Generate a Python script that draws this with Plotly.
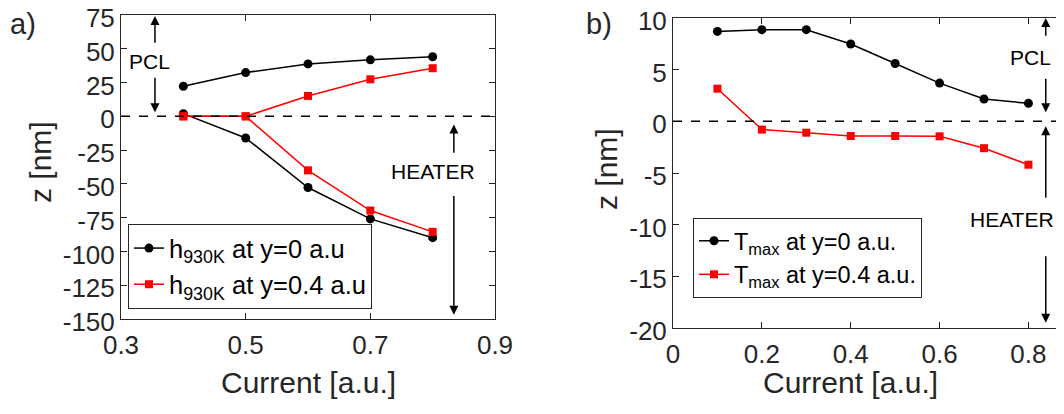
import plotly.graph_objects as go

# ---- data: panel a ----
current_a = [0.4, 0.5, 0.6, 0.7, 0.8]
h_y0_upper = [22.3, 32.4, 38.8, 41.8, 44.1]
h_y0_lower = [2.0, -16.0, -52.7, -75.9, -89.8]
h_y04_upper = [0.0, 0.0, 15.1, 27.4, 35.6]
h_y04_lower = [0.0, 0.0, -40.0, -69.7, -85.5]

# ---- data: panel b ----
current_b = [0.1, 0.2, 0.3, 0.4, 0.5, 0.6, 0.7, 0.8]
tmax_y0 = [8.7, 8.87, 8.87, 7.48, 5.6, 3.7, 2.16, 1.74]
tmax_y04 = [3.16, -0.8, -1.1, -1.42, -1.42, -1.45, -2.6, -4.2]

xticks_a = [0.3, 0.5, 0.7, 0.9]
xlabels_a = ["0.3", "0.5", "0.7", "0.9"]
yticks_a = [75, 50, 25, 0, -25, -50, -75, -100, -125, -150]
xticks_b = [0, 0.2, 0.4, 0.6, 0.8]
xlabels_b = ["0", "0.2", "0.4", "0.6", "0.8"]
yticks_b = [10, 5, 0, -5, -10, -15, -20]

FONT = "Liberation Sans, Arial, sans-serif"
AX = "#262626"
BLACK = "#000000"
RED = "#ff0000"

fig = go.Figure()

def line_trace(x, y, color, symbol, name, xa, ya, legend, show):
    return go.Scatter(
        x=x, y=y, mode="lines+markers", name=name,
        line=dict(color=color, width=1.5),
        marker=dict(color=color, symbol=symbol, size=9 if symbol == "circle" else 8),
        xaxis=xa, yaxis=ya, legend=legend, showlegend=show,
    )

name_a0 = "h<sub>930K</sub> at y=0 a.u"
name_a4 = "h<sub>930K</sub> at y=0.4 a.u"
fig.add_trace(line_trace(current_a, h_y0_upper, BLACK, "circle", name_a0, "x", "y", "legend", True))
fig.add_trace(line_trace(current_a, h_y0_lower, BLACK, "circle", name_a0, "x", "y", "legend", False))
fig.add_trace(line_trace(current_a, h_y04_upper, RED, "square", name_a4, "x", "y", "legend", True))
fig.add_trace(line_trace(current_a, h_y04_lower, RED, "square", name_a4, "x", "y", "legend", False))

fig.add_trace(line_trace(current_b, tmax_y0, BLACK, "circle", "T<sub>max</sub> at y=0 a.u.", "x2", "y2", "legend2", True))
fig.add_trace(line_trace(current_b, tmax_y04, RED, "square", "T<sub>max</sub> at y=0.4 a.u.", "x2", "y2", "legend2", True))

# page body has an 8px margin, so the figure is offset by 8px
OFF = 8
W, H = 1064 - OFF, 414 - OFF
def px_x(p): return (p - OFF) / W
def px_y(p): return 1 - (p - OFF) / H

common_axis = dict(
    showline=True, linecolor=AX, linewidth=1, ticks="inside", ticklen=6,
    tickcolor=AX, tickfont=dict(family=FONT, size=26, color=AX),
    showgrid=False, zeroline=False, automargin=False, ticklabeloverflow="allow",
)

fig.update_layout(
    width=W, height=H,
    margin=dict(l=0, r=0, t=0, b=0, autoexpand=False),
    paper_bgcolor="white", plot_bgcolor="white",
    font=dict(family=FONT, color=AX),
    xaxis=dict(common_axis, domain=[px_x(121), px_x(495)], range=[0.3, 0.9],
               tickvals=xticks_a, ticktext=xlabels_a, mirror="ticks", anchor="y",
               ticklabelstandoff=3),
    yaxis=dict(common_axis, domain=[px_y(319), px_y(15)], range=[-150, 75],
               tickvals=yticks_a, ticktext=[str(v) for v in yticks_a], mirror="ticks",
               anchor="x", ticklabelshift=3),
    xaxis2=dict(common_axis, domain=[px_x(673), 1.0], range=[0, 0.88],
                tickvals=xticks_b, ticktext=xlabels_b, mirror="ticks", anchor="y2",
                ticklabelstandoff=3),
    yaxis2=dict(common_axis, domain=[px_y(328), px_y(18)], range=[-20, 10],
                tickvals=yticks_b, ticktext=[str(v) for v in yticks_b], mirror=False,
                anchor="x2", ticklabelshift=3),
    legend=dict(x=px_x(128), y=px_y(224), xanchor="left", yanchor="top",
                bordercolor=AX, borderwidth=1, bgcolor="white",
                font=dict(family=FONT, size=25.5, color="#000"), tracegroupgap=0),
    legend2=dict(x=px_x(693), y=px_y(218), xanchor="left", yanchor="top",
                 bordercolor=AX, borderwidth=1, bgcolor="white",
                 font=dict(family=FONT, size=23.5, color="#000"), tracegroupgap=0),
    showlegend=True,
)

# dashed zero lines
fig.add_shape(type="line", xref="x domain", yref="y", x0=0, x1=1, y0=0, y1=0,
              line=dict(color="black", width=1.5, dash="dash"))
fig.add_shape(type="line", xref="x2 domain", yref="y2", x0=0, x1=1, y0=0, y1=0,
              line=dict(color="black", width=1.5, dash="dash"))

def arrow(xr, yr, x0, y0, x1, y1):
    fig.add_annotation(x=x1, y=y1, ax=x0, ay=y0, xref=xr, yref=yr, axref=xr, ayref=yr,
                       text="", showarrow=True, arrowhead=2, arrowsize=1.2,
                       arrowwidth=1.5, arrowcolor="black")

def label(xr, yr, x, y, t, size=21):
    fig.add_annotation(x=x, y=y, xref=xr, yref=yr, text=t, showarrow=False,
                       xanchor="center", yanchor="middle",
                       font=dict(family=FONT, size=size, color="black"))

# panel a annotations
arrow("x", "y", 0.3545, 53.4, 0.3545, 74.2)
arrow("x", "y", 0.3545, 29.7, 0.3545, 3.0)
label("x", "y", 0.345, 40.8, "PCL")
arrow("x", "y", 0.834, -28, 0.834, -6)
arrow("x", "y", 0.834, -57.9, 0.834, -146.9)
label("x", "y", 0.801, -40.8, "HEATER")

# panel b annotations
arrow("x2", "y2", 0.839, 8.13, 0.839, 10.0)
arrow("x2", "y2", 0.839, 4.26, 0.839, 0.87)
label("x2", "y2", 0.805, 6.2, "PCL")
arrow("x2", "y2", 0.839, -7.55, 0.839, -0.48)
arrow("x2", "y2", 0.839, -12.9, 0.839, -19.5)
label("x2", "y2", 0.764, -9.5, "HEATER")

# axis titles and panel labels
def ptext(x, y, t, size, angle=0):
    fig.add_annotation(x=px_x(x), y=px_y(y), xref="paper", yref="paper", text=t,
                       showarrow=False, textangle=angle,
                       xanchor="center", yanchor="middle",
                       font=dict(family=FONT, size=size, color=AX))

ptext(308, 382, "Current [a.u.]", 30)
ptext(850, 382, "Current [a.u.]", 30)
ptext(40, 162, "z [nm]", 30, -90)
ptext(606, 169, "z [nm]", 30, -90)
ptext(23, 24, "a)", 29)
ptext(599, 24, "b)", 29)

fig.write_html("out.html")
